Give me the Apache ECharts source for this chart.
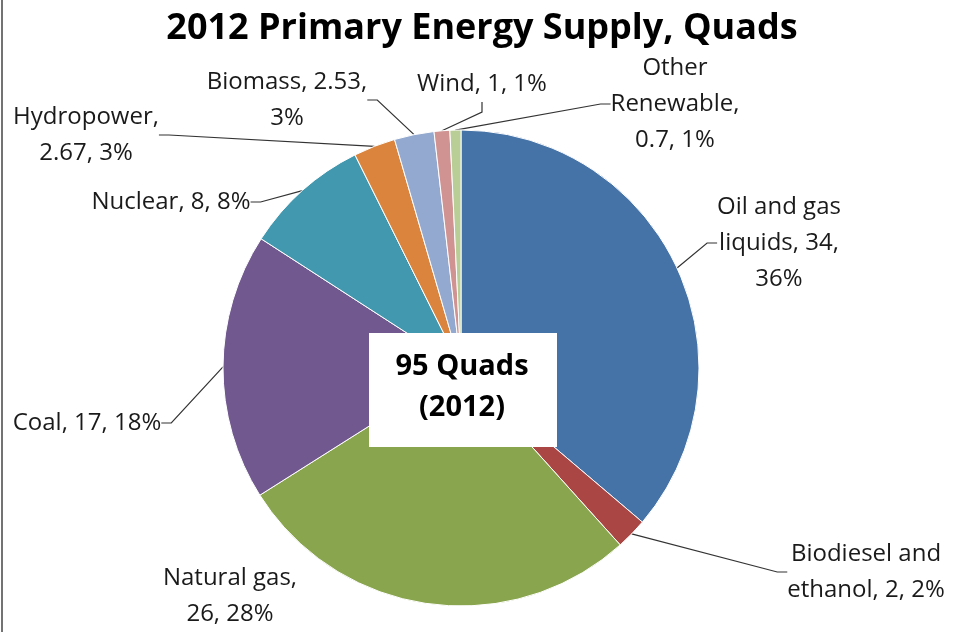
<!DOCTYPE html>
<html>
<head>
<meta charset="utf-8">
<style>
  html, body { margin: 0; padding: 0; background: #fff; }
  #chart { width: 955px; height: 632px; }
</style>
<script src="https://cdn.jsdelivr.net/npm/echarts@6/dist/echarts.min.js"></script>
</head>
<body>
<div id="chart"></div>
<script>
// 2012 primary energy supply, quads
const sources = [
  "Oil and gas liquids",
  "Biodiesel and ethanol",
  "Natural gas",
  "Coal",
  "Nuclear",
  "Hydropower",
  "Biomass",
  "Wind",
  "Other Renewable"
];
const quads = [34, 2, 26, 17, 8, 2.67, 2.53, 1, 0.7];
const labelText = [
  "Oil and gas\nliquids, 34,\n36%",
  "Biodiesel and\nethanol, 2, 2%",
  "Natural gas,\n26, 28%",
  "Coal, 17, 18%",
  "Nuclear, 8, 8%",
  "Hydropower,\n2.67, 3%",
  "Biomass, 2.53,\n3%",
  "Wind, 1, 1%",
  "Other\nRenewable,\n0.7, 1%"
];
const sliceColors = [
  "#4572A7", "#AA4643", "#89A54E", "#71588F", "#4198AF",
  "#DB843D", "#93A9CF", "#D19392", "#B9CD96"
];

// where each label sits (x, y)
const labelSpots = [
  [779, 243],
  [866, 572],
  [230, 596],
  [87, 423],
  [171, 202],
  [86, 135],
  [287, 100],
  [482, 84],
  [675, 104]
];

const chart = echarts.init(document.getElementById("chart"));

chart.setOption({
  animation: false,
  title: {
    text: "2012 Primary Energy Supply, Quads",
    left: 477,
    textAlign: "center",
    top: 6,
    textStyle: {
      fontFamily: "Open Sans",
      fontWeight: "bold",
      fontSize: 36,
      color: "#000"
    }
  },
  graphic: [
    {
      type: "line",
      shape: { x1: 2, y1: 0, x2: 2, y2: 632 },
      style: { stroke: "#444", lineWidth: 1.5 }
    },
    {
      type: "rect",
      z: 100,
      shape: { x: 369, y: 333, width: 188, height: 114 },
      style: { fill: "#fff" }
    },
    {
      type: "text",
      z: 101,
      x: 462,
      y: 387,
      style: {
        text: "95 Quads\n(2012)",
        align: "center",
        verticalAlign: "middle",
        fontFamily: "Open Sans",
        fontWeight: "bold",
        fontSize: 29,
        lineHeight: 41,
        fill: "#000"
      }
    }
  ],
  series: [
    {
      type: "pie",
      center: [461, 368],
      radius: 238,
      startAngle: 90,
      clockwise: true,
      itemStyle: { borderColor: "#fff", borderWidth: 1 },
      label: {
        show: true,
        formatter: (p) => labelText[p.dataIndex],
        fontFamily: "Open Sans",
        fontSize: 24,
        lineHeight: 36,
        color: "#1a1a1a",
        align: "center"
      },
      labelLine: {
        show: true,
        length: 15,
        length2: 10,
        lineStyle: { color: "#333", width: 1.2 }
      },
      labelLayout: (params) => {
        const s = labelSpots[params.dataIndex];
        return { x: s[0], y: s[1], align: "center", verticalAlign: "middle" };
      },
      emphasis: { disabled: true },
      data: sources.map((name, i) => ({
        name,
        value: quads[i],
        itemStyle: { color: sliceColors[i] },
        labelLine: { show: i !== 2 }
      }))
    }
  ]
});
</script>
</body>
</html>
